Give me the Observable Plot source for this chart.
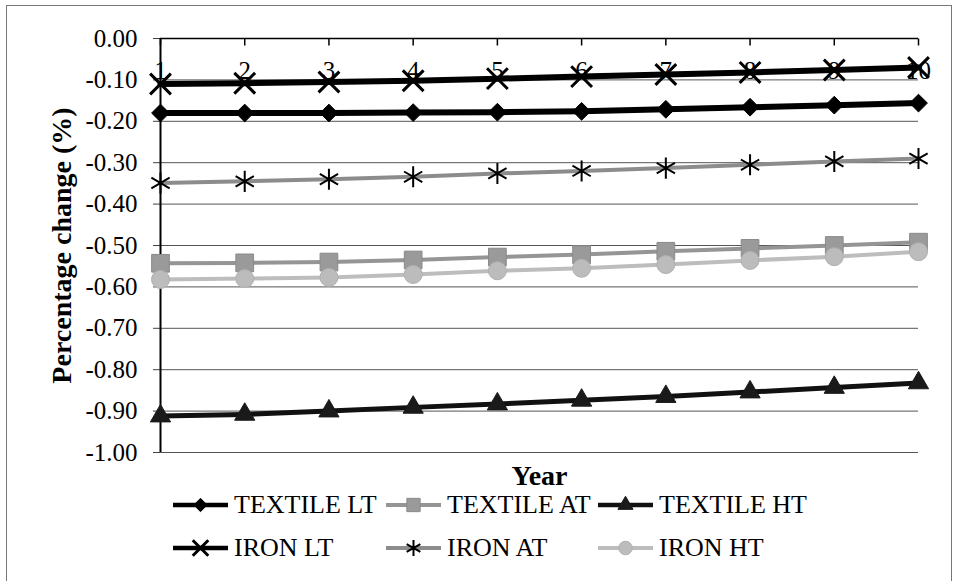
<!DOCTYPE html>
<html>
<head>
<meta charset="utf-8">
<script src="https://cdn.jsdelivr.net/npm/d3@7"></script>
<script src="https://cdn.jsdelivr.net/npm/@observablehq/plot@0.6"></script>
<style>
  html, body { margin: 0; padding: 0; background: #fff; overflow: hidden; }
  #wrap { position: relative; width: 957px; height: 581px; font-family: "Liberation Serif", "DejaVu Serif", serif; }
  #border { position: absolute; left: 6px; top: 5px; width: 946px; height: 620px; border: 1px solid #777; box-sizing: border-box; }
  #chart { position: absolute; left: 0; top: 0; }
  .leg { position: absolute; display: flex; align-items: center; height: 26px; line-height: 26px; font-size: 26px; color: #000; white-space: nowrap; font-family: "Liberation Serif", "DejaVu Serif", serif; }
  .leg svg { display: block; margin-right: 6px; }
</style>
</head>
<body>
<div id="wrap">
  <div id="border"></div>
  <div id="chart"></div>
  <div id="legend"></div>
</div>
<script>
// ---- data ----
const years = [1, 2, 3, 4, 5, 6, 7, 8, 9, 10];
const yTicks = [0, -0.1, -0.2, -0.3, -0.4, -0.5, -0.6, -0.7, -0.8, -0.9, -1.0];
const seriesNames = ["TEXTILE LT", "TEXTILE AT", "TEXTILE HT", "IRON LT", "IRON AT", "IRON HT"];
const textileLT = [-0.180, -0.180, -0.180, -0.179, -0.178, -0.176, -0.171, -0.166, -0.161, -0.156];
const textileAT = [-0.543, -0.542, -0.540, -0.535, -0.528, -0.522, -0.514, -0.507, -0.500, -0.492];
const textileHT = [-0.912, -0.908, -0.900, -0.891, -0.883, -0.874, -0.865, -0.854, -0.843, -0.832];
const ironLT = [-0.110, -0.108, -0.105, -0.102, -0.097, -0.092, -0.087, -0.082, -0.076, -0.070];
const ironAT = [-0.349, -0.345, -0.340, -0.334, -0.326, -0.320, -0.313, -0.305, -0.297, -0.290];
const ironHT = [-0.582, -0.580, -0.577, -0.570, -0.561, -0.555, -0.546, -0.536, -0.527, -0.515];
const seriesValues = [textileLT, textileAT, textileHT, ironLT, ironAT, ironHT];
const xTitle = "Year";
const yTitle = "Percentage change (%)";

// ---- styles ----
const FONT = "'Liberation Serif', 'DejaVu Serif', serif";
const styles = [
  {line: "#000", lw: 6, symbol: "diamond2", fill: "#000", stroke: "#000", sw: 1, r: 8},
  {line: "#959595", lw: 4, symbol: "square", fill: "#9a9a9a", stroke: "#8a8a8a", sw: 1, r: 10},
  {line: "#111", lw: 5, symbol: "triangle", fill: "#1a1a1a", stroke: "#1a1a1a", sw: 1, r: 7.5},
  {line: "#000", lw: 6, symbol: "times", fill: "none", stroke: "#000", sw: 3, r: 9.5},
  {line: "#8c8c8c", lw: 4, symbol: "asterisk", fill: "none", stroke: "#000", sw: 2, r: 10},
  {line: "#bdbdbd", lw: 4, symbol: "circle", fill: "#bcbcbc", stroke: "#b0b0b0", sw: 1, r: 9}
];

const rows = [];
seriesNames.forEach((name, si) => {
  years.forEach((yr, i) => rows.push({series: name, si, year: yr, value: seriesValues[si][i]}));
});

const downTick = { draw(ctx) { ctx.moveTo(0, 0); ctx.lineTo(0, 7); } };

const marks = [
  Plot.ruleY(yTicks.slice(1), {x1: 1, x2: 10, stroke: "#555", strokeWidth: 1}),
  Plot.ruleY([0], {x1: 1, x2: 10, stroke: "#000", strokeWidth: 1.5}),
  Plot.axisY(yTicks, {anchor: "left", tickSize: 7, tickPadding: 16, tickFormat: d => d.toFixed(2), fontSize: 25, label: null, stroke: "#444"}),
  Plot.ruleX([1], {y1: -1, y2: 0, stroke: "#000", strokeWidth: 2}),
  Plot.dot(years, {x: d => d, y: () => 0, symbol: downTick, stroke: "#000", strokeWidth: 1.5}),
  Plot.text(years, {x: d => d, y: () => 0, dy: 32, text: d => String(d), fontSize: 25})
];
seriesNames.forEach((name, si) => {
  const s = styles[si];
  const data = rows.filter(d => d.si === si);
  marks.push(Plot.line(data, {x: "year", y: "value", stroke: s.line, strokeWidth: s.lw}));
  marks.push(Plot.dot(data, {x: "year", y: "value", symbol: s.symbol, r: s.r, fill: s.fill, stroke: s.stroke, strokeWidth: s.sw}));
});
marks.push(Plot.text([xTitle], {frameAnchor: "bottom", lineAnchor: "middle", dy: 24, fontSize: 28, fontWeight: "bold"}));
marks.push(Plot.text([yTitle], {frameAnchor: "left", textAnchor: "middle", lineAnchor: "middle", dx: -98, rotate: -90, fontSize: 28, fontWeight: "bold"}));

const chart = Plot.plot({
  width: 957,
  height: 490,
  marginLeft: 160,
  marginRight: 39,
  marginTop: 38,
  marginBottom: 38,
  x: {domain: [1, 10], axis: null},
  y: {domain: [-1, 0], axis: null},
  style: {fontFamily: FONT, fontSize: "25px", color: "#000", background: "transparent"},
  marks
});
document.getElementById("chart").appendChild(chart);

// ---- legend ----
const legCols = [173, 386, 598];
const legRows = [505, 548];
const legSymbols = {diamond2: d3.symbolDiamond2, square: d3.symbolSquare, triangle: d3.symbolTriangle, times: d3.symbolTimes, asterisk: d3.symbolAsterisk, circle: d3.symbolCircle};
const legend = document.getElementById("legend");
seriesNames.forEach((name, si) => {
  const s = styles[si];
  const col = si % 3, row = Math.floor(si / 3);
  const div = document.createElement("div");
  div.className = "leg";
  div.style.left = legCols[col] + "px";
  div.style.top = (legRows[row] - 13) + "px";
  const w = 55, h = 26;
  const svg = d3.create("svg").attr("width", w).attr("height", h);
  svg.append("line").attr("x1", 0).attr("x2", w).attr("y1", h / 2).attr("y2", h / 2)
    .attr("stroke", s.line).attr("stroke-width", Math.min(s.lw, 4.5));
  const size = Math.PI * (s.r * 0.75) ** 2;
  svg.append("path").attr("transform", `translate(${w / 2},${h / 2})`)
    .attr("d", d3.symbol(legSymbols[s.symbol], size)())
    .attr("fill", s.fill).attr("stroke", s.stroke).attr("stroke-width", s.sw);
  div.appendChild(svg.node());
  const span = document.createElement("span");
  span.textContent = name;
  div.appendChild(span);
  legend.appendChild(div);
});
</script>
</body>
</html>
